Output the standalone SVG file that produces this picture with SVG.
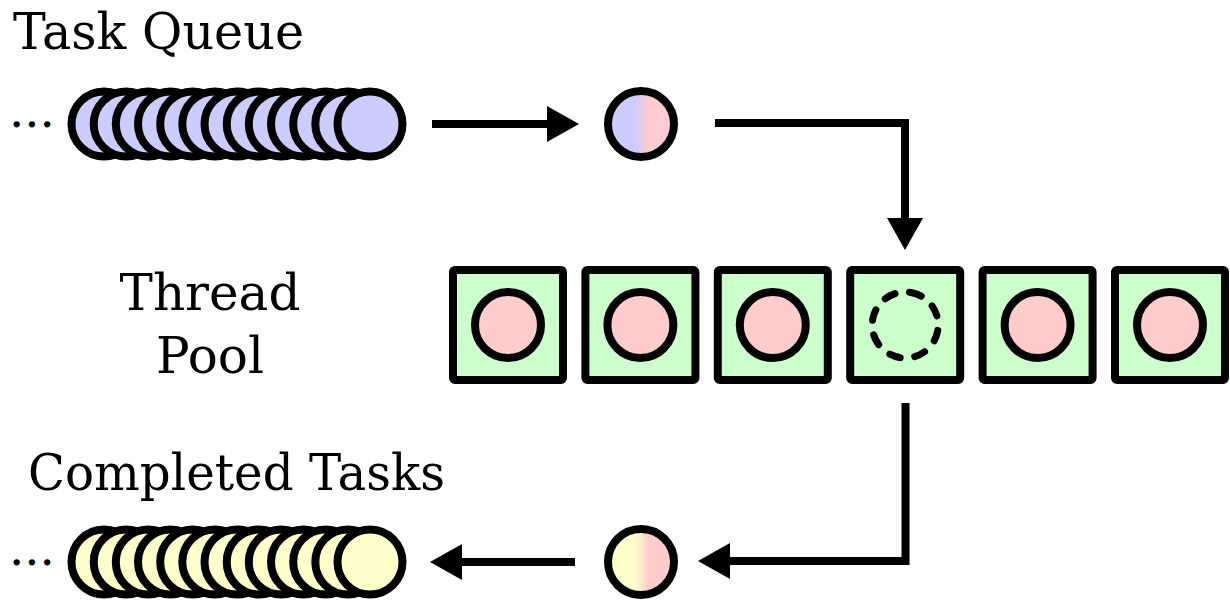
<svg xmlns="http://www.w3.org/2000/svg" width="1230" height="604" viewBox="0 0 1230 604">
<style>
  .lbl{font-family:"DejaVu Serif","Liberation Serif",serif;font-size:50px;fill:#000}
  .dots{font-family:"DejaVu Serif","Liberation Serif",serif;font-size:48px;fill:#000}
  .q{stroke:#000;stroke-width:8}
  .blue{fill:#ccccff}
  .yellow{fill:#ffffcc}
  .box{fill:#ccffcc;stroke:#000;stroke-width:8}
  .task{fill:#ffcccc;stroke:#000;stroke-width:8}
  .empty{fill:none;stroke:#000;stroke-width:7;stroke-dasharray:11 14.7;stroke-linecap:round}
  .conn{fill:none;stroke:#000;stroke-width:8}
</style>
<defs>
  <linearGradient id="gBP" x1="0" y1="0" x2="1" y2="0">
    <stop offset="0.4" stop-color="#ccccff"/>
    <stop offset="0.62" stop-color="#ffcccc"/>
    <stop offset="1" stop-color="#ffccdd"/>
  </linearGradient>
  <linearGradient id="gYP" x1="0" y1="0" x2="1" y2="0">
    <stop offset="0.4" stop-color="#ffffcc"/>
    <stop offset="0.62" stop-color="#ffcccc"/>
    <stop offset="1" stop-color="#ffcccc"/>
  </linearGradient>
  <marker id="ah" markerUnits="userSpaceOnUse" markerWidth="32" markerHeight="36" refX="1" refY="18" orient="auto">
    <path d="M0,0 L32,18 L0,36 Z" fill="#000"/>
  </marker>
</defs>

<g id="label-task-queue">
  <text class="lbl" x="13" y="49" textLength="291" lengthAdjust="spacingAndGlyphs">Task Queue</text>
</g>
<g id="label-thread-pool">
  <text class="lbl" x="210" y="310" text-anchor="middle">Thread</text>
  <text class="lbl" x="210" y="373" text-anchor="middle">Pool</text>
</g>
<g id="label-completed">
  <text class="lbl" x="28" y="490" textLength="417" lengthAdjust="spacingAndGlyphs">Completed Tasks</text>
</g>

<g id="task-queue">
  <text class="dots" x="9" y="127">...</text>
  <g class="q blue">
    <circle cx="104" cy="124" r="32.5"/>
    <circle cx="126.2" cy="124" r="32.5"/>
    <circle cx="148.3" cy="124" r="32.5"/>
    <circle cx="170.5" cy="124" r="32.5"/>
    <circle cx="192.7" cy="124" r="32.5"/>
    <circle cx="214.8" cy="124" r="32.5"/>
    <circle cx="237" cy="124" r="32.5"/>
    <circle cx="259.2" cy="124" r="32.5"/>
    <circle cx="281.3" cy="124" r="32.5"/>
    <circle cx="303.5" cy="124" r="32.5"/>
    <circle cx="325.7" cy="124" r="32.5"/>
    <circle cx="347.8" cy="124" r="32.5"/>
    <circle cx="370" cy="124" r="32.5"/>
  </g>
</g>

<g id="task-in">
  <circle cx="641" cy="124" r="33" fill="url(#gBP)" stroke="#000" stroke-width="8"/>
</g>

<g id="thread-pool">
  <g id="thread-1"><rect class="box" x="453" y="270" width="110" height="110" rx="2"/><circle class="task" cx="508" cy="325" r="33"/></g>
  <g id="thread-2"><rect class="box" x="585.4" y="270" width="110" height="110" rx="2"/><circle class="task" cx="640.4" cy="325" r="33"/></g>
  <g id="thread-3"><rect class="box" x="717.8" y="270" width="110" height="110" rx="2"/><circle class="task" cx="772.8" cy="325" r="33"/></g>
  <g id="thread-4"><rect class="box" x="850.2" y="270" width="110" height="110" rx="2"/><circle class="empty" cx="905.2" cy="325" r="33" transform="rotate(-80 905.2 325)"/></g>
  <g id="thread-5"><rect class="box" x="982.6" y="270" width="110" height="110" rx="2"/><circle class="task" cx="1037.6" cy="325" r="33"/></g>
  <g id="thread-6"><rect class="box" x="1115" y="270" width="110" height="110" rx="2"/><circle class="task" cx="1170" cy="325" r="33"/></g>
</g>

<g id="task-out">
  <circle cx="641" cy="562" r="33" fill="url(#gYP)" stroke="#000" stroke-width="8"/>
</g>

<g id="completed-tasks">
  <text class="dots" x="9" y="565">...</text>
  <g class="q yellow">
    <circle cx="104" cy="562" r="32.5"/>
    <circle cx="126.2" cy="562" r="32.5"/>
    <circle cx="148.3" cy="562" r="32.5"/>
    <circle cx="170.5" cy="562" r="32.5"/>
    <circle cx="192.7" cy="562" r="32.5"/>
    <circle cx="214.8" cy="562" r="32.5"/>
    <circle cx="237" cy="562" r="32.5"/>
    <circle cx="259.2" cy="562" r="32.5"/>
    <circle cx="281.3" cy="562" r="32.5"/>
    <circle cx="303.5" cy="562" r="32.5"/>
    <circle cx="325.7" cy="562" r="32.5"/>
    <circle cx="347.8" cy="562" r="32.5"/>
    <circle cx="370" cy="562" r="32.5"/>
  </g>
</g>

<g id="connectors">
  <path class="conn" d="M432,124 H548" marker-end="url(#ah)"/>
  <path class="conn" d="M715,123 H905 V219" marker-end="url(#ah)"/>
  <path class="conn" d="M905.5,403 V561 H729" marker-end="url(#ah)"/>
  <path class="conn" d="M575,562 H461" marker-end="url(#ah)"/>
</g>
</svg>
